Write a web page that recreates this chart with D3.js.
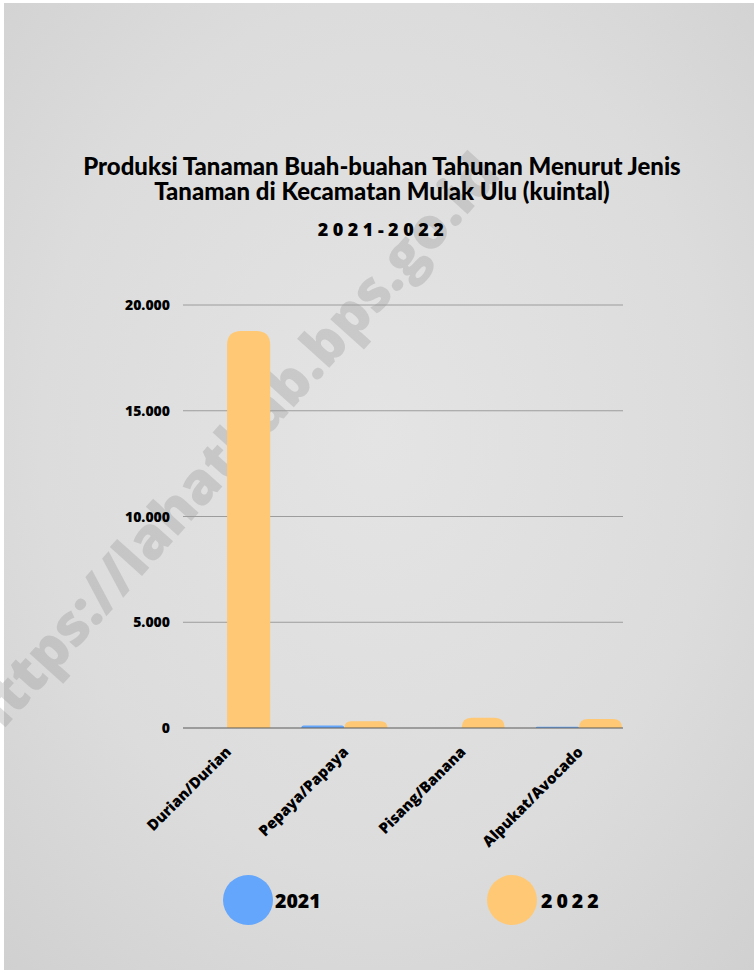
<!DOCTYPE html>
<html><head><meta charset="utf-8">
<script src="https://cdn.jsdelivr.net/npm/d3@7/dist/d3.min.js"></script>
<style>html,body{margin:0;padding:0;background:#fff;}svg{display:block;}</style>
</head><body>
<svg id="c" width="754" height="970"></svg>
<script>
const categories = ["Durian/Durian", "Pepaya/Papaya", "Pisang/Banana", "Alpukat/Avocado"];
const seriesNames = ["2021", "2022"];
const values2021 = [0, 120, 0, 60];
const values2022 = [18770, 320, 480, 430];
const yTicks = [0, 5000, 10000, 15000, 20000];
const colors = {"2021": "#63a6fc", "2022": "#ffc874"};
const titleLines = ["Produksi Tanaman Buah-buahan Tahunan Menurut Jenis", "Tanaman di Kecamatan Mulak Ulu (kuintal)"];
const subtitle = "2021-2022";
const watermark = "https://lahatkab.bps.go.id";

(function () {
const svg = d3.select("#c");
const W = 754, H = 970;

// background
const defs = svg.append("defs");
const g1 = defs.append("radialGradient").attr("id","bg").attr("cx","50%").attr("cy","45%").attr("r","75%");
g1.append("stop").attr("offset","0%").attr("stop-color","#e4e4e4");
g1.append("stop").attr("offset","60%").attr("stop-color","#dcdcdc");
g1.append("stop").attr("offset","100%").attr("stop-color","#d0d0d0");
svg.append("rect").attr("x",4).attr("y",3).attr("width",W-4).attr("height",H-3).attr("fill","url(#bg)");

// watermark
svg.append("text").text(watermark)
  .attr("transform","translate(502,176) rotate(-48)")
  .attr("text-anchor","end")
  .attr("font-family","Open Sans").attr("font-weight",800).attr("font-size",57)
  .attr("fill","#8a8a8a").attr("fill-opacity",0.28);

const pLeft = 184, pRight = 622, pTop = 305, pBottom = 728;
const x = d3.scaleBand().domain(categories).range([pLeft, pRight]).paddingInner(0.265).paddingOuter(0);
const xs = d3.scaleBand().domain(seriesNames).range([0, x.bandwidth()]).padding(0);
const y = d3.scaleLinear().domain([0, 20000]).range([pBottom, pTop]);

const loc = d3.formatLocale({decimal: ",", thousands: ".", grouping: [3], currency: ["", ""]});
const fmt = loc.format(",");

// grid
svg.append("g").selectAll("line").data(yTicks.filter(d => d !== 0)).join("line")
  .attr("x1", 183).attr("x2", 623)
  .attr("y1", d => y(d)).attr("y2", d => y(d))
  .attr("stroke", "#9c9c9c").attr("stroke-width", 1);

// tick labels
svg.append("g").selectAll("text").data(yTicks).join("text")
  .attr("x", 170).attr("y", d => y(d)).attr("dy", "0.36em")
  .attr("text-anchor", "end")
  .attr("font-family", "Open Sans").attr("font-weight", 800).attr("font-size", 14)
  .attr("fill", "#000").text(d => fmt(d));

// bars
function barPath(x0, w, yTop, yBase) {
  const h = yBase - yTop;
  if (h <= 0) return "";
  const r = Math.min(14, w / 2, h);
  return `M${x0},${yBase}V${yTop + r}Q${x0},${yTop} ${x0 + r},${yTop}H${x0 + w - r}Q${x0 + w},${yTop} ${x0 + w},${yTop + r}V${yBase}Z`;
}
const rows = [];
categories.forEach((c, i) => {
  rows.push({cat: c, s: "2021", v: values2021[i]});
  rows.push({cat: c, s: "2022", v: values2022[i]});
});
svg.append("g").selectAll("path").data(rows).join("path")
  .attr("d", d => barPath(x(d.cat) + xs(d.s), xs.bandwidth(), y(d.v), y(0)))
  .attr("fill", d => colors[d.s]);

// baseline
svg.append("line").attr("x1", 183).attr("x2", 623).attr("y1", y(0)).attr("y2", y(0))
  .attr("stroke", "#5a5a5a").attr("stroke-width", 1.2);

// x labels
svg.append("g").selectAll("text").data(categories).join("text")
  .attr("transform", d => `translate(${x(d) + x.bandwidth() / 2 + 5},753) rotate(-45)`)
  .attr("text-anchor", "end")
  .attr("font-family", "Open Sans").attr("font-weight", 800).attr("font-size", 15)
  .attr("fill", "#000").text(d => d);

// title
const tl = svg.append("g").selectAll("text").data(titleLines).join("text")
  .attr("x", 382).attr("y", (d, i) => 175 + i * 25)
  .attr("text-anchor", "middle")
  .attr("font-family", "Lato").attr("font-weight", 900).attr("font-size", 22)
  .attr("fill", "#000").text(d => d);
const w0 = tl.nodes()[0].getComputedTextLength();
const fs = 22 * 598 / w0;
tl.attr("font-size", fs);

svg.append("text").attr("x", 383).attr("y", 236).attr("text-anchor", "middle")
  .attr("font-family", "Open Sans").attr("font-weight", 800).attr("font-size", 18)
  .attr("letter-spacing", 4.5).attr("fill", "#000").text(subtitle);

// legend
const legendPos = [{s: "2021", cx: 248, tx: 275, ls: 0}, {s: "2022", cx: 512, tx: 541, ls: 4}];
const lg = svg.append("g").selectAll("g").data(legendPos).join("g");
lg.append("circle").attr("cx", d => d.cx).attr("cy", 900).attr("r", 25).attr("fill", d => colors[d.s]);
lg.append("text").attr("x", d => d.tx).attr("y", 908)
  .attr("font-family", "Open Sans").attr("font-weight", 800).attr("font-size", 19.5)
  .attr("letter-spacing", d => d.ls).attr("fill", "#000").text(d => d.s);
})();
</script>
</body></html>
